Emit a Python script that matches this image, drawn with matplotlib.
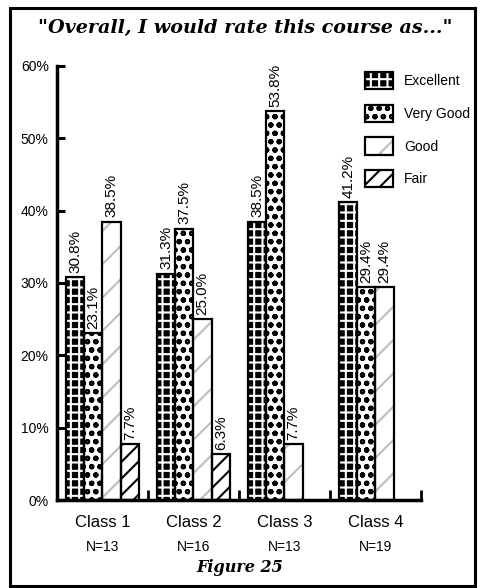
import numpy as np
import matplotlib
matplotlib.use('Agg')
import matplotlib.pyplot as plt
from matplotlib import font_manager
from matplotlib.legend_handler import HandlerTuple
from matplotlib.patches import Rectangle

classes = ['Class 1', 'Class 2', 'Class 3', 'Class 4']
sizes = ['N=13', 'N=16', 'N=13', 'N=19']
ratings = ['Excellent', 'Very Good', 'Good', 'Fair']
excellent = [30.8, 31.3, 38.5, 41.2]
very_good = [23.1, 37.5, 53.8, 29.4]
good = [38.5, 25.0, 7.7, 29.4]
fair = [7.7, 6.3, 0.0, 0.0]
y_ticks = [0, 10, 20, 30, 40, 50, 60]

# face colour, hatch, hatch colour for each rating
styles = [('black', '++', 'white'),
          ('white', 'oo', 'black'),
          ('white', '/', '#bdbdbd'),
          ('white', '//', 'black')]

names = {f.name for f in font_manager.fontManager.ttflist}
narrow = 'Liberation Sans Narrow' if 'Liberation Sans Narrow' in names else 'Liberation Sans'
plt.rcParams['font.family'] = [narrow, 'DejaVu Sans']
plt.rcParams['hatch.linewidth'] = 1.5

fig = plt.figure(figsize=(4.81, 5.88), dpi=100)
W, H = 481.0, 588.0
ax = fig.add_axes([57 / W, 1 - 500 / H, (421 - 57) / W, (500 - 66) / H])

series = [excellent, very_good, good, fair]
x = np.arange(len(classes))
bar_w = 0.2
handles = []
for j, (vals, (face, hatch, hcol)) in enumerate(zip(series, styles)):
    vals = np.array(vals)
    left = x + 0.1 + bar_w * j
    keep = vals > 0
    filled = ax.bar(left[keep], vals[keep], width=bar_w, align='edge', color=face,
                    edgecolor=hcol, linewidth=0, hatch=hatch, zorder=2)
    outline = ax.bar(left[keep], vals[keep], width=bar_w, align='edge', fill=False,
                     edgecolor='black', linewidth=1.6, zorder=3)
    handles.append((filled[0], outline[0]))
    for xl, v in zip(left[keep], vals[keep]):
        ax.text(xl + bar_w / 2, v + 0.6, f'{v:.1f}%', rotation=90, ha='center',
                va='bottom', fontsize=11)

ax.set_xlim(0, 4)
ax.set_ylim(0, 60)
for side in ['top', 'right']:
    ax.spines[side].set_visible(False)
for side in ['left', 'bottom']:
    ax.spines[side].set_linewidth(2.5)

ax.set_yticks(y_ticks)
ax.set_yticklabels([f'{t}%' for t in y_ticks])
ax.tick_params(axis='y', direction='in', length=6, width=2.2, pad=6, labelsize=10)

ax.set_xticks(x + 0.5)
ax.set_xticklabels(classes)
ax.set_xticks([1, 2, 3, 4], minor=True)
ax.tick_params(axis='x', which='major', length=0, pad=11, labelsize=12)
ax.tick_params(axis='x', which='minor', direction='in', length=7, width=2)
for xc, n in zip(x + 0.5, sizes):
    ax.annotate(n, (xc, 0), xycoords=('data', 'axes fraction'), xytext=(0, -29),
                textcoords='offset points', ha='center', va='top', fontsize=10)

ax.legend(handles, ratings, handler_map={tuple: HandlerTuple(ndivide=1)},
          loc='upper left', bbox_to_anchor=(365 / W, 1 - 72 / H),
          bbox_transform=fig.transFigure, frameon=False, fontsize=10,
          handlelength=2.0, handleheight=1.55, labelspacing=1.1,
          handletextpad=0.8, borderpad=0, borderaxespad=0)

fig.text(245 / W, 1 - 28 / H, '"Overall, I would rate this course as..."',
         family='DejaVu Serif', weight='bold', style='italic', fontsize=13.8,
         ha='center', va='center')
fig.text(240 / W, 1 - 567 / H, 'Figure 25', family='DejaVu Serif',
         weight='bold', style='italic', fontsize=11.5, ha='center', va='center')

# frame round the whole figure
fig.patches.append(Rectangle((10 / W, 1 - 586 / H), 465 / W, 578 / H, fill=False,
                             edgecolor='black', linewidth=2.2,
                             transform=fig.transFigure))

fig.savefig('out.png', dpi=100)
